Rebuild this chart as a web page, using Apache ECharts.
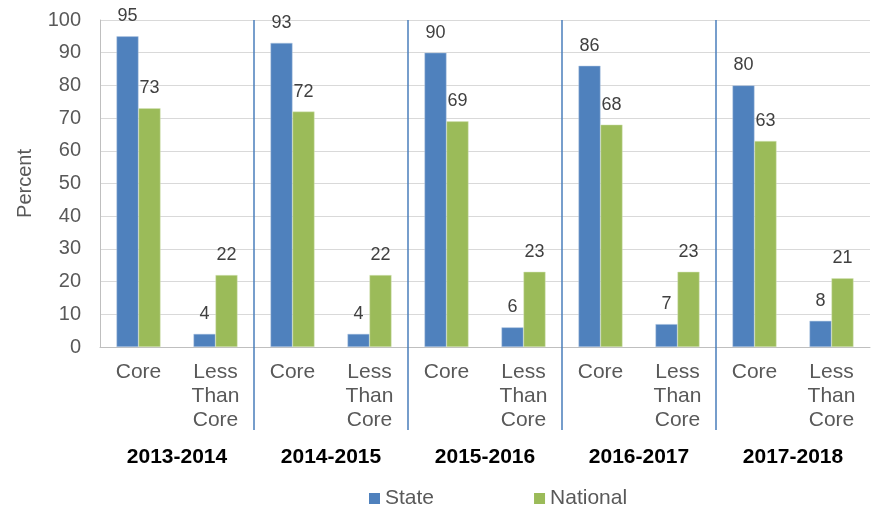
<!DOCTYPE html>
<html>
<head>
<meta charset="utf-8" />
<title>State vs National</title>
<script src="https://cdn.jsdelivr.net/npm/echarts@6/dist/echarts.min.js"></script>
<style>
    html, body { margin: 0; padding: 0; background: #fff; }
    #chart { width: 872px; height: 507px; }
</style>
</head>
<body>
<div id="chart"></div>
<script>
    // data
    var years = ['2013-2014', '2014-2015', '2015-2016', '2016-2017', '2017-2018'];
    var categories = ['Core', 'Less\nThan\nCore', 'Core', 'Less\nThan\nCore', 'Core', 'Less\nThan\nCore', 'Core', 'Less\nThan\nCore', 'Core', 'Less\nThan\nCore'];
    var stateValues = [95, 4, 93, 4, 90, 6, 86, 7, 80, 8];
    var nationalValues = [73, 22, 72, 22, 69, 23, 68, 23, 63, 21];
    var yTicks = { min: 0, max: 100, interval: 10 };

    var font = 'Liberation Sans, Arial, sans-serif';
    // separators between the year groups
    var perYear = categories.length / years.length;
    var separators = [];
    for (var i = 1; i < years.length; i++) separators.push(i * perYear);

    var chart = echarts.init(document.getElementById('chart'));
    chart.setOption({
        animation: false,
        textStyle: { fontFamily: font },
        grid: { left: 100, right: 2, top: 20, bottom: 160 },
        legend: {
            top: 483,
            left: 364,
            itemWidth: 11,
            itemHeight: 11,
            itemGap: 100,
            icon: 'rect',
            itemStyle: { borderWidth: 0 },
            textStyle: { fontSize: 21, color: '#595959', fontFamily: font },
            data: ['State', 'National']
        },
        xAxis: [{
            type: 'category',
            data: categories,
            axisLine: { lineStyle: { color: '#bfbfbf', width: 1 } },
            axisTick: { show: false },
            axisLabel: { fontSize: 21, lineHeight: 24, color: '#595959', margin: 13, interval: 0 }
        }, {
            type: 'value',
            position: 'bottom',
            min: 0,
            max: categories.length,
            axisLine: { show: false },
            axisLabel: { show: false },
            axisTick: { show: true, customValues: separators, length: 83, lineStyle: { color: '#4a7ebb', width: 1.5 } },
            splitLine: { show: true, lineStyle: { color: '#4a7ebb', width: 1.5 } }
        }, {
            type: 'category',
            position: 'bottom',
            data: years,
            offset: 91,
            axisLine: { show: false },
            axisTick: { show: false },
            axisLabel: { fontSize: 21, fontWeight: 'bold', color: '#000', margin: 9 }
        }],
        yAxis: {
            type: 'value',
            min: yTicks.min,
            max: yTicks.max,
            interval: yTicks.interval,
            name: 'Percent',
            nameLocation: 'middle',
            nameGap: 65,
            nameTextStyle: { fontSize: 20, color: '#595959' },
            axisLine: { show: true, lineStyle: { color: '#bfbfbf' } },
            axisTick: { show: false },
            axisLabel: { fontSize: 20, color: '#595959', margin: 19 },
            splitLine: { lineStyle: { color: '#d9d9d9' } }
        },
        series: [{
            name: 'State',
            type: 'bar',
            data: stateValues,
            barWidth: 22,
            barGap: '0%',
            itemStyle: { color: '#4f81bd', borderColor: '#b9cde5', borderWidth: 0.5 },
            label: { show: true, position: 'top', distance: 11, fontSize: 18, color: '#404040' }
        }, {
            name: 'National',
            type: 'bar',
            data: nationalValues,
            barWidth: 22,
            itemStyle: { color: '#9bbb59', borderColor: '#d7e4bd', borderWidth: 0.5 },
            label: { show: true, position: 'top', distance: 11, fontSize: 18, color: '#404040' }
        }]
    });
</script>
</body>
</html>
